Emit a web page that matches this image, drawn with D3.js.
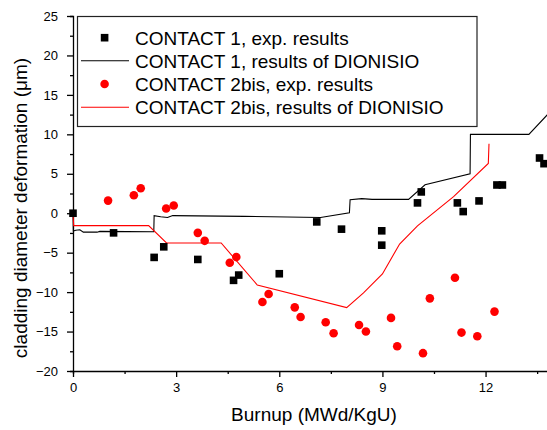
<!DOCTYPE html>
<meta charset="utf-8">
<svg width="547" height="430"></svg>

<style>
body { margin: 0; background: #fff; }
svg { display: block; font-family: Arial, "Liberation Sans", sans-serif; }
.tick text { font-size: 13px; fill: #000; }
.axis path, .axis line { stroke: #000; stroke-width: 1.3; }
.title { font-size: 19px; fill: #000; }
</style>

<script src="https://d3js.org/d3.v7.min.js"></script>
<script>

// CONTACT 1, exp. results (burnup MWd/KgU, deformation um)
var c1Burnup = [0, 1.18, 2.36, 2.64, 3.63, 4.67, 4.82, 6.0, 7.09, 7.81, 8.98, 8.98,
                10.02, 10.13, 11.18, 11.35, 11.81, 12.33, 12.49, 13.57, 13.7];
var c1Exp    = [0, -2.49, -5.6, -4.26, -5.86, -8.51, -7.84, -7.67, -1.1, -2.02, -2.23, -4.05,
                1.31, 2.7, 1.31, 0.21, 1.56, 3.58, 3.58, 7.0, 6.28];

// CONTACT 1, results of DIONISIO
var c1SimBurnup = [0, 0.01, 0.08, 0.2, 0.3, 0.4, 0.7, 0.78, 2.35, 2.36, 2.55, 2.75, 2.9,
                   5.0, 7.2, 8.04, 8.06, 8.4, 8.7, 9.76, 10.24, 11.55, 11.56, 13.26, 13.8];
var c1Sim       = [0, -2.25, -2.15, -2.1, -2.4, -2.4, -2.4, -2.3, -2.35, -0.3, -0.45, -0.55, -0.3,
                   -0.4, -0.55, 0.05, 1.7, 1.85, 1.75, 1.75, 3.6, 5.0, 10.0, 10.0, 12.5];

// CONTACT 2bis, exp. results
var c2Burnup = [1.02, 1.77, 1.97, 2.71, 2.93, 3.63, 3.83, 4.56, 4.75, 5.51, 5.69, 6.45, 6.62,
                7.35, 7.58, 8.32, 8.52, 9.25, 9.43, 10.18, 10.38, 11.11, 11.3, 11.76, 12.26];
var c2Exp    = [1.6, 2.28, 3.16, 0.59, 0.97, -2.49, -3.5, -6.28, -5.56, -11.25, -10.24, -11.93, -13.15,
                -13.82, -15.21, -14.16, -15.0, -13.27, -16.86, -17.74, -10.79, -8.18, -15.13, -15.59, -12.47];

// CONTACT 2bis, results of DIONISIO
var c2SimBurnup = [0, 0.02, 2.2, 2.72, 4.31, 5.36, 7.96, 8.45, 9.0, 9.5, 10.02, 11.07, 12.08, 12.1];
var c2Sim       = [0, -1.57, -1.57, -3.77, -3.77, -9.1, -11.97, -10.1, -7.7, -3.9, -1.6, 2.1, 6.3, 8.8];

var xTicks = [0, 3, 6, 9, 12];
var yTicks = [-20, -15, -10, -5, 0, 5, 10, 15, 20, 25];

var legendLabels = ["CONTACT 1, exp. results", "CONTACT 1, results of DIONISIO",
                    "CONTACT 2bis, exp. results", "CONTACT 2bis, results of DIONISIO"];

var svg = d3.select("svg");

var x = d3.scaleLinear().domain([0, 15]).range([73, 73 + 15 * 34.38]);
var y = d3.scaleLinear().domain([-20, 25]).range([371, 16]);

// minor ticks first, then major with labels
svg.append("g")
    .attr("class", "axis")
    .attr("transform", "translate(0,371)")
    .call(d3.axisBottom(x).tickValues(d3.range(1.5, 15.1, 3)).tickSize(3).tickFormat(""));
svg.append("g")
    .attr("class", "axis")
    .attr("transform", "translate(0,371)")
    .call(d3.axisBottom(x).tickValues(xTicks).tickSize(6).tickPadding(6).tickFormat(d3.format("d")))
    .select(".domain").remove();

svg.append("g")
    .attr("class", "axis")
    .attr("transform", "translate(73,0)")
    .call(d3.axisLeft(y).tickValues(d3.range(-17.5, 25, 5)).tickSize(3).tickFormat(""));
svg.append("g")
    .attr("class", "axis")
    .attr("transform", "translate(73,0)")
    .call(d3.axisLeft(y).tickValues(yTicks).tickSize(6).tickPadding(9).tickFormat(d3.format("d")))
    .select(".domain").remove();

svg.append("text")
    .attr("class", "title")
    .attr("transform", "translate(27,208) rotate(-90)")
    .attr("text-anchor", "middle")
    .text("cladding diameter deformation (\u03bcm)");

svg.append("text")
    .attr("class", "title")
    .attr("x", 314)
    .attr("y", 421)
    .attr("text-anchor", "middle")
    .text("Burnup (MWd/KgU)");

var line = d3.line()
    .x(function(d) { return x(d[0]); })
    .y(function(d) { return y(d[1]); });

svg.append("path")
    .datum(d3.zip(c1SimBurnup, c1Sim))
    .attr("fill", "none")
    .attr("stroke", "#000")
    .attr("stroke-width", 1.1)
    .attr("d", line);

svg.append("path")
    .datum(d3.zip(c2SimBurnup, c2Sim))
    .attr("fill", "none")
    .attr("stroke", "#ff0000")
    .attr("stroke-width", 1.1)
    .attr("d", line);

var sq = 7.6;
svg.append("g").selectAll("rect")
    .data(d3.zip(c1Burnup, c1Exp))
    .enter().append("rect")
      .attr("x", function(d) { return x(d[0]) - sq / 2; })
      .attr("y", function(d) { return y(d[1]) - sq / 2; })
      .attr("width", sq)
      .attr("height", sq)
      .attr("fill", "#000");

svg.append("g").selectAll("circle")
    .data(d3.zip(c2Burnup, c2Exp))
    .enter().append("circle")
      .attr("cx", function(d) { return x(d[0]); })
      .attr("cy", function(d) { return y(d[1]); })
      .attr("r", 4.3)
      .attr("fill", "#ff0000");

// legend
var legend = svg.append("g");
legend.append("rect")
    .attr("x", 77.5).attr("y", 16.5)
    .attr("width", 399.5).attr("height", 110)
    .attr("fill", "#fff")
    .attr("stroke", "#222")
    .attr("stroke-width", 1.2);

var rowY = [37.7, 60.7, 84, 107.3];
legend.append("rect")
    .attr("x", 104.6 - sq / 2).attr("y", rowY[0] - sq / 2)
    .attr("width", sq).attr("height", sq).attr("fill", "#000");
legend.append("line")
    .attr("x1", 81).attr("x2", 129).attr("y1", rowY[1]).attr("y2", rowY[1])
    .attr("stroke", "#000").attr("stroke-width", 1.1);
legend.append("circle")
    .attr("cx", 104.6).attr("cy", rowY[2]).attr("r", 4.3).attr("fill", "#ff0000");
legend.append("line")
    .attr("x1", 81).attr("x2", 129).attr("y1", rowY[3]).attr("y2", rowY[3])
    .attr("stroke", "#ff0000").attr("stroke-width", 1.1);

legend.selectAll("text.lbl")
    .data(legendLabels)
    .enter().append("text")
      .attr("class", "title lbl")
      .attr("x", 135)
      .attr("y", function(d, i) { return rowY[i] + 6.8; })
      .text(function(d) { return d; });

</script>
